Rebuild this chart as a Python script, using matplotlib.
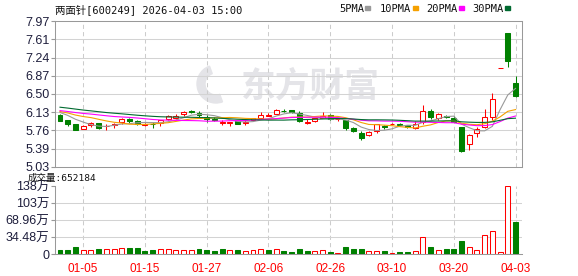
import numpy as np
import matplotlib
matplotlib.use("Agg")
import matplotlib.pyplot as plt
from matplotlib.patches import Rectangle, Wedge

plt.rcParams['font.family'] = ['Liberation Sans', 'Noto Sans CJK SC']

W, H = 578, 276
RED = '#ff0000'
GREEN = '#008000'

# closes before the visible window, only used for the moving averages
prior_close = [6.42, 6.38, 6.45, 6.40, 6.33, 6.36, 6.31, 6.35, 6.38, 6.32,
               6.25, 6.20, 6.22, 6.18, 6.15, 6.19, 6.21, 6.17, 6.12, 6.14,
               6.18, 6.20, 6.16, 6.13, 6.15, 6.19, 6.17, 6.14, 6.18]

open_ = [6.078, 5.97, 5.89, 5.80, 5.876, 5.917, 5.845, 5.88, 5.93, 5.99,
         5.96, 5.88, 5.90, 5.92, 6.00, 6.01, 6.09, 6.15, 6.125, 6.04,
         5.997, 5.92, 5.922, 5.944, 5.92, 5.97, 6.024, 6.06, 6.105, 6.165,
         6.17, 6.118, 5.91, 5.944, 6.024, 6.08, 5.99, 5.97, 5.82, 5.715,
         5.68, 5.75, 5.845, 5.89, 5.885, 5.87, 5.81, 5.937, 6.153, 6.015,
         6.05, 6.02, 5.83, 5.49, 5.71, 5.84, 6.03, 7.03, 7.73, 6.72]
high = [6.10, 5.98, 5.90, 5.87, 5.93, 5.92, 5.89, 5.92, 6.01, 6.02,
        5.97, 5.92, 5.94, 5.98, 6.08, 6.09, 6.16, 6.17, 6.15, 6.08,
        6.038, 5.97, 5.94, 5.95, 5.97, 6.02, 6.146, 6.11, 6.19, 6.19,
        6.18, 6.15, 6.00, 6.02, 6.146, 6.09, 6.01, 5.98, 5.836, 5.75,
        5.76, 5.896, 5.88, 5.91, 5.91, 5.88, 5.95, 6.27, 6.19, 6.12,
        6.07, 6.06, 5.84, 5.70, 5.84, 6.19, 6.52, 7.03, 7.74, 6.86]
low = [5.944, 5.86, 5.77, 5.79, 5.84, 5.80, 5.78, 5.82, 5.90, 5.92,
       5.88, 5.85, 5.82, 5.85, 5.97, 6.00, 6.05, 6.11, 6.02, 5.94,
       5.944, 5.876, 5.86, 5.89, 5.88, 5.96, 6.02, 6.05, 6.09, 6.13,
       6.12, 5.93, 5.90, 5.93, 6.02, 5.97, 5.96, 5.78, 5.73, 5.57,
       5.655, 5.715, 5.80, 5.87, 5.86, 5.82, 5.79, 5.90, 6.00, 5.98,
       6.02, 5.93, 5.33, 5.37, 5.64, 5.81, 5.98, 7.03, 7.04, 6.43]
close = [5.957, 5.89, 5.78, 5.856, 5.917, 5.809, 5.855, 5.90, 5.985, 5.95,
         5.90, 5.89, 5.885, 5.97, 6.05, 6.065, 6.13, 6.14, 6.07, 6.00,
         5.97, 5.925, 5.935, 5.90, 5.94, 6.01, 6.078, 6.07, 6.17, 6.16,
         6.13, 5.944, 5.93, 6.01, 6.065, 5.985, 6.00, 5.809, 5.755, 5.61,
         5.735, 5.896, 5.84, 5.896, 5.875, 5.83, 5.89, 6.153, 6.03, 6.10,
         6.04, 5.94, 5.345, 5.67, 5.79, 6.03, 6.395, 7.03, 7.16, 6.45]
# volume in 万手
volume = [9.5, 9.5, 14.8, 8.0, 8.0, 10.8, 10.8, 10.8, 12.1, 12.8,
          12.8, 7.4, 9.5, 10.1, 10.8, 8.7, 8.7, 8.7, 11.4, 9.5,
          7.4, 11.4, 9.5, 9.5, 6.7, 8.7, 10.8, 9.5, 10.8, 7.4,
          5.4, 11.4, 7.4, 6.7, 8.7, 5.4, 3.4, 14.8, 11.4, 11.4,
          6.7, 6.7, 7.4, 2.7, 4.0, 5.4, 6.7, 35.0, 14.8, 8.7,
          11.4, 11.4, 26.0, 14.5, 8.7, 38.0, 48.0, 4.0, 137.92, 65.2184]

date_labels = ['01-05', '01-15', '01-27', '02-06', '02-26', '03-10', '03-20', '04-03']
date_idx = [3, 11, 19, 27, 35, 43, 51, 59]
price_ticks = ['5.03', '5.39', '5.76', '6.13', '6.50', '6.87', '7.24', '7.61', '7.97']
vol_ticks = [0, 34.48, 68.96, 103.44, 137.92]
vol_tick_labels = ['0', '34.48万', '68.96万', '103万', '138万']
ma_names = ['5PMA', '10PMA', '20PMA', '30PMA']
ma_days = [5, 10, 20, 30]
ma_colors = ['#999999', '#f5a000', '#ff00ff', '#006a30']


def fx(px):
    return px / W


def fy(py):
    return 1 - py / H


n = len(close)
x = np.arange(n)
allc = np.array(prior_close + close)

fig = plt.figure(figsize=(W / 100, H / 100), dpi=100)
ax_p = fig.add_axes([fx(55), fy(166.7), 467 / W, 145.4 / H])
ax_v = fig.add_axes([fx(55), fy(254.3), 467 / W, 68.3 / H])

for ax in (ax_p, ax_v):
    ax.set_xlim(-0.648, 59.84)
    for sp in ax.spines.values():
        sp.set_color('#999999')
        sp.set_linewidth(0.75)
    for i in date_idx:
        ax.axvline(i, color='#cccccc', lw=0.75, ls=(0, (4, 3)), zorder=1)
    ax.tick_params(axis='y', length=3, color='#999999', labelsize=9,
                   labelcolor='#1e1e3c', pad=1)

# price panel
ylo, yhi = float(price_ticks[0]), float(price_ticks[-1])
ax_p.set_ylim(ylo, yhi)
yt = np.linspace(ylo, yhi, len(price_ticks))
ax_p.set_yticks(yt, price_ticks)
for v in yt[1:-1]:
    ax_p.axhline(v, color='#d3d3d3', lw=0.75, zorder=1)
ax_p.set_xticks([])

for i in range(n):
    o, h, l, c = open_[i], high[i], low[i], close[i]
    prev = close[i - 1] if i else prior_close[-1]
    up = c > o or (c == o and c >= prev)
    col = RED if up else GREEN
    ax_p.vlines(x[i], l, h, color=col, lw=0.75, zorder=3)
    ax_p.add_patch(Rectangle((x[i] - 0.32, min(o, c)), 0.64, abs(c - o),
                             facecolor='white' if up else col, edgecolor=col,
                             lw=0.75, zorder=4))

for name, k, col in zip(ma_names, ma_days, ma_colors):
    ma = np.convolve(allc, np.ones(k) / k, 'valid')[-n:]
    ax_p.plot(x, ma, color=col, lw=0.8, zorder=5)

# watermark
ax_p.text(fx(310), fy(86), '东方财富', transform=fig.transFigure, fontsize=25,
          color='#e4e4e8', weight='bold', style='italic', ha='center',
          va='center', zorder=0.5, family=['Noto Sans CJK SC'])
ax_p.add_patch(Wedge((2.16, (H - 84) / 100), 0.19, 110, 290, width=0.08,
                     transform=fig.dpi_scale_trans, color='#e4e4e8', zorder=0.5))

# volume panel
ax_v.set_ylim(0, vol_ticks[-1])
ax_v.set_yticks(vol_ticks, vol_tick_labels)
for v in vol_ticks[1:-1]:
    ax_v.axhline(v, color='#d3d3d3', lw=0.75, zorder=1)
for i in range(n):
    prev = close[i - 1] if i else prior_close[-1]
    up = close[i] >= prev
    ax_v.bar(x[i], volume[i], width=0.64, facecolor='white' if up else GREEN,
             edgecolor=RED if up else GREEN, lw=0.75, zorder=3)
ax_v.set_xticks(date_idx, date_labels)
ax_v.tick_params(axis='x', length=0, labelsize=8.5, labelcolor=RED, pad=6)
ax_v.spines['top'].set_visible(False)
ax_v.spines['right'].set_visible(False)

# header texts
mono = ['DejaVu Sans Mono', 'Noto Sans CJK SC']
fig.text(fx(55), fy(10), '两面针[600249] 2026-04-03 15:00', family=mono,
         fontsize=7.5, va='center', color='#111111')
leg_x = [339, 380, 426, 472]
for lx, name, col in zip(leg_x, ma_names, ma_colors):
    fig.text(fx(lx), fy(9), name, family=mono, fontsize=7.5, va='center',
             color='#111111')
    sx = lx + 6.1 * len(name) + 2
    fig.patches.append(Rectangle((fx(sx), fy(9.5)), 5 / W, 3 / H,
                                 transform=fig.transFigure, color=col))
fig.text(fx(28), fy(178), '成交量:%d' % round(volume[-1] * 10000), family=mono,
         fontsize=6.8, va='center', color='#111111')

fig.savefig('out.png', dpi=100)
